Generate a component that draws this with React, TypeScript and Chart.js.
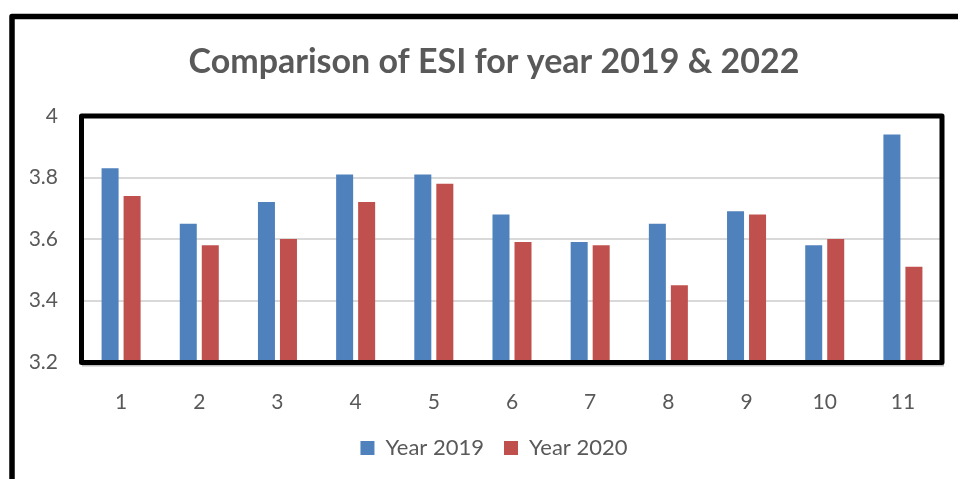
import React, { useEffect, useRef } from "react";
import { Chart, registerables } from "chart.js";

Chart.register(...registerables);

const categories = ["1", "2", "3", "4", "5", "6", "7", "8", "9", "10", "11"];
const year2019 = [3.83, 3.65, 3.72, 3.81, 3.81, 3.68, 3.59, 3.65, 3.69, 3.58, 3.94];
const year2020 = [3.74, 3.58, 3.6, 3.72, 3.78, 3.59, 3.58, 3.45, 3.68, 3.6, 3.51];
const yTicks = [3.2, 3.4, 3.6, 3.8, 4];
const seriesLabels = ["Year 2019", "Year 2020"];
const titleText = "Comparison of ESI for year 2019 & 2022";

const TEXT = "#595959";
const FONT = "Lato";

const framePlugin = {
  id: "frames",
  afterDatasetsDraw(chart: any) {
    const { ctx, chartArea: a } = chart;
    ctx.save();
    ctx.strokeStyle = "#BFBFBF";
    ctx.lineWidth = 2;
    ctx.beginPath();
    ctx.moveTo(a.left, a.bottom + 3.5);
    ctx.lineTo(a.right + 2, a.bottom + 3.5);
    ctx.stroke();
    ctx.strokeStyle = "#000";
    ctx.lineJoin = "round";
    ctx.lineWidth = 5;
    ctx.strokeRect(a.left - 0.5, a.top, a.right - a.left + 0.5, a.bottom - a.top + 0.5);
    ctx.lineWidth = 5.5;
    ctx.beginPath();
    ctx.moveTo(12, chart.height + 10);
    ctx.lineTo(12, 16.5);
    ctx.lineTo(chart.width + 10, 16.5);
    ctx.stroke();
    ctx.restore();
  },
};

export default function App() {
  const ref = useRef<HTMLCanvasElement | null>(null);
  useEffect(() => {
    if (!ref.current) return;
    const chart = new Chart(ref.current, {
      type: "bar",
      data: {
        labels: categories,
        datasets: [
          {
            label: seriesLabels[0],
            data: year2019,
            backgroundColor: "#4F81BD",
            borderWidth: 0,
            barPercentage: 0.773,
            categoryPercentage: 0.563,
          },
          {
            label: seriesLabels[1],
            data: year2020,
            backgroundColor: "#C0504D",
            borderWidth: 0,
            barPercentage: 0.773,
            categoryPercentage: 0.563,
          },
        ],
      },
      options: {
        responsive: false,
        animation: false,
        layout: { padding: { left: 30, right: 0, top: 0, bottom: 10 } },
        plugins: {
          title: {
            display: true,
            text: titleText,
            color: TEXT,
            font: { family: FONT, size: 34, weight: "bold", lineHeight: 1.2 },
            padding: { top: 41.6, bottom: 33.6 },
          },
          legend: {
            position: "bottom",
            labels: {
              boxWidth: 14,
              boxHeight: 14,
              padding: 20,
              color: TEXT,
              font: { family: FONT, size: 22 },
            },
          },
          tooltip: { enabled: false },
        },
        scales: {
          x: {
            grid: { display: false },
            border: { display: false },
            ticks: { color: TEXT, font: { family: FONT, size: 21 }, padding: 20 },
            afterFit(s: any) {
              s.height = 55;
            },
          },
          y: {
            min: 3.2,
            max: 4,
            afterBuildTicks(s: any) {
              s.ticks = yTicks.map((v) => ({ value: v }));
            },
            grid: { color: "#D9D9D9", lineWidth: 2, drawTicks: false },
            border: { display: false },
            ticks: {
              color: TEXT,
              font: { family: FONT, size: 21 },
              padding: 24,
              callback: (v: any) => String(Number(v)),
            },
            afterFit(s: any) {
              s.width = 52;
            },
          },
          yRight: {
            position: "right",
            display: true,
            grid: { display: false },
            border: { display: false },
            ticks: { display: false },
            afterFit(s: any) {
              s.width = 16;
            },
          },
        },
      },
      plugins: [framePlugin],
    } as any);
    return () => chart.destroy();
  }, []);
  return (
    <div style={{ position: "fixed", left: 0, top: 0, width: 958, height: 479, background: "#fff" }}>
      <canvas ref={ref} width={958} height={479} />
    </div>
  );
}
